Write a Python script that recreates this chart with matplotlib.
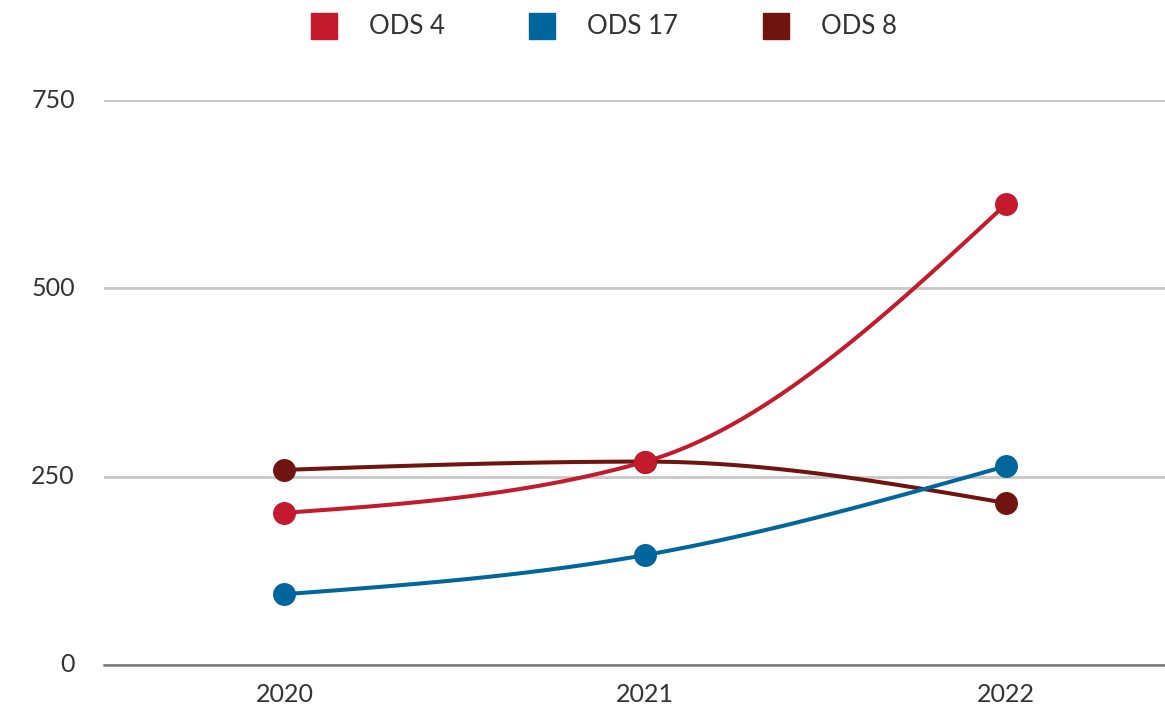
import numpy as np
import matplotlib.pyplot as plt
from matplotlib.lines import Line2D

years = ['2020', '2021', '2022']
ods4 = [202, 270, 612]
ods17 = [94, 146, 264]
ods8 = [259, 270, 215]

colors = {'ODS 4': '#C41A2E', 'ODS 17': '#00669C', 'ODS 8': '#70140F'}


def monotone_x(x, y, n=60):
    # d3 curveMonotoneX style smoothing
    x = np.asarray(x, float)
    y = np.asarray(y, float)
    h = np.diff(x)
    s = np.diff(y) / h
    t = np.zeros(len(x))
    for i in range(1, len(x) - 1):
        p = (s[i - 1] * h[i] + s[i] * h[i - 1]) / (h[i - 1] + h[i])
        t[i] = (np.sign(s[i - 1]) + np.sign(s[i])) * min(abs(s[i - 1]), abs(s[i]), 0.5 * abs(p))
    t[0] = (3 * s[0] - t[1]) / 2
    t[-1] = (3 * s[-1] - t[-2]) / 2
    xs, ys = [], []
    for i in range(len(x) - 1):
        dx = h[i] / 3
        p0 = np.array([x[i], y[i]])
        p1 = np.array([x[i] + dx, y[i] + dx * t[i]])
        p2 = np.array([x[i + 1] - dx, y[i + 1] - dx * t[i + 1]])
        p3 = np.array([x[i + 1], y[i + 1]])
        u = np.linspace(0, 1, n)[:, None]
        pts = (1 - u) ** 3 * p0 + 3 * (1 - u) ** 2 * u * p1 + 3 * (1 - u) * u ** 2 * p2 + u ** 3 * p3
        xs.extend(pts[:, 0])
        ys.extend(pts[:, 1])
    return np.array(xs), np.array(ys)


plt.rcParams['font.family'] = ['Lato', 'DejaVu Sans']

fig = plt.figure(figsize=(11.65, 7.07), dpi=100)
ax = fig.add_axes([104 / 1165, 42 / 707, 1 - 104 / 1165, 565 / 707])

xpos = np.arange(len(years))
series = [('ODS 8', ods8), ('ODS 17', ods17), ('ODS 4', ods4)]
for name, vals in series:
    sx, sy = monotone_x(xpos, vals)
    ax.plot(sx, sy, color=colors[name], lw=2.9, solid_capstyle='round', zorder=3)
    ax.plot(xpos, vals, 'o', color=colors[name], ms=15.5, zorder=4)

ax.set_xlim(-0.5, 2.44)
ax.set_ylim(0, 750)
ax.set_yticks([0, 250, 500, 750])
ax.set_xticks(xpos)
ax.set_xticklabels(years)
for s in ['top', 'right', 'left']:
    ax.spines[s].set_visible(False)
ax.spines['bottom'].set_color('#777777')
ax.spines['bottom'].set_linewidth(1.8)
ax.grid(axis='y', color='#C8C8C8', lw=2.0)
ax.set_axisbelow(True)
ax.tick_params(axis='both', length=0, labelsize=18, labelcolor='#333333')
ax.tick_params(axis='y', pad=21)
ax.tick_params(axis='x', pad=13)
for lbl in ax.get_yticklabels():
    lbl.set_va('center')

handles = [Line2D([], [], marker='s', ls='none', color=colors[n], ms=19) for n in ['ODS 4', 'ODS 17', 'ODS 8']]
fig.legend(handles, ['ODS 4', 'ODS 17', 'ODS 8'], loc='center', bbox_to_anchor=(0.519, 1 - 27 / 707),
           ncol=3, frameon=False, fontsize=18.5, labelcolor='#333333', handlelength=0.9,
           handletextpad=1.3, columnspacing=3.35)

fig.savefig('out.png', dpi=100)
